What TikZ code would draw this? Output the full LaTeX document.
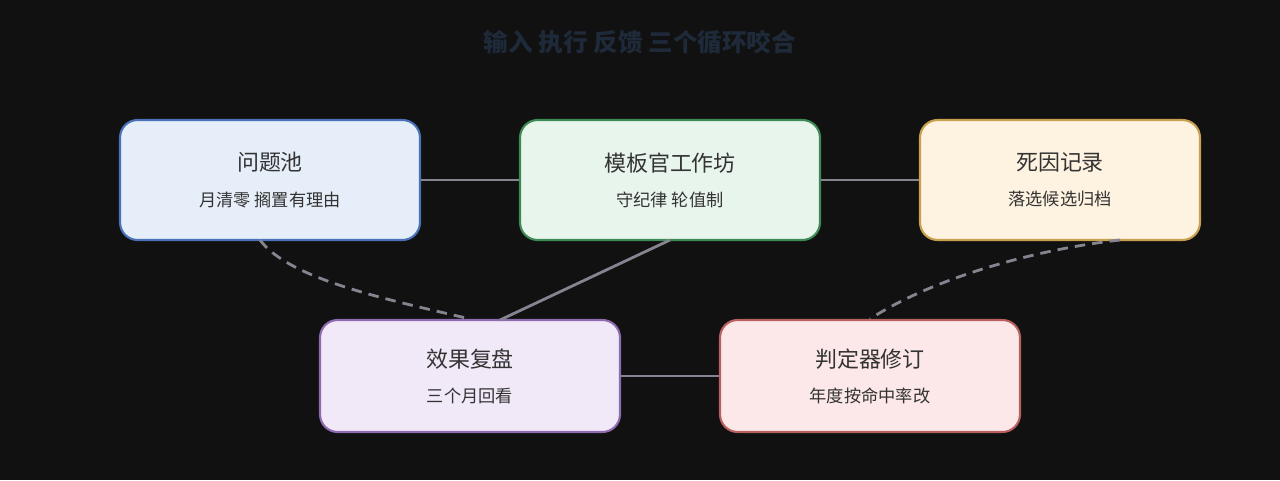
\documentclass[tikz,border=0pt]{standalone}
\usepackage{fontspec}
\setmainfont{Noto Sans CJK SC}
\usetikzlibrary{positioning}
\definecolor{bg}{HTML}{111111}
\definecolor{ink}{HTML}{333333}
\definecolor{wire}{HTML}{85848F}
\definecolor{ttl}{HTML}{1E2A3A}
\definecolor{poolfill}{HTML}{E6EEF9}\definecolor{pooldraw}{HTML}{4A72B8}
\definecolor{shopfill}{HTML}{E8F5EC}\definecolor{shopdraw}{HTML}{3E8A55}
\definecolor{deadfill}{HTML}{FDF3E0}\definecolor{deaddraw}{HTML}{C9A04E}
\definecolor{revfill}{HTML}{F1E8F8}\definecolor{revdraw}{HTML}{8E6BB0}
\definecolor{judgefill}{HTML}{FCE8E8}\definecolor{judgedraw}{HTML}{B86060}
\newcommand\subtxt[1]{{\fontsize{9.8pt}{12pt}\selectfont #1}}
\tikzset{
  box/.style={draw, line width=1.2pt, rounded corners=10pt, minimum width=6cm, minimum height=2.4cm, text=ink, align=center, font=\fontsize{12.5pt}{22pt}\selectfont},
  link/.style={draw=wire, line width=1.6pt},
  loop/.style={link, dash pattern=on 6pt off 4pt}
}
\begin{document}
\begin{tikzpicture}[x=0.02cm,y=-0.02cm]
\fill[bg] (0,0) rectangle (1280,480);
\node[text=ttl, font=\bfseries\fontsize{14pt}{16pt}\selectfont] (title) at (640,42) {输入 执行 反馈 三个循环咬合};

\node[box, fill=poolfill, draw=pooldraw] (pool) at (270,180) {问题池\\[-2pt]\subtxt{月清零 搁置有理由}};
\node[box, fill=shopfill, draw=shopdraw] (shop) at (670,180) {模板官工作坊\\[-2pt]\subtxt{守纪律 轮值制}};
\node[box, fill=deadfill, draw=deaddraw, minimum width=5.6cm] (dead) at (1060,180) {死因记录\\[-2pt]\subtxt{落选候选归档}};
\node[box, fill=revfill, draw=revdraw, minimum height=2.24cm] (review) at (470,376) {效果复盘\\[-2pt]\subtxt{三个月回看}};
\node[box, fill=judgefill, draw=judgedraw, minimum height=2.24cm] (judge) at (870,376) {判定器修订\\[-2pt]\subtxt{年度按命中率改}};

\coordinate (poolout) at (260,240);
\coordinate (deadout) at (1120,240);
\coordinate (shopout) at (670,240);
\coordinate (revin) at (500,320);

\draw[link] (pool.east) -- (shop.west);
\draw[link] (shop.east) -- (dead.west);
\draw[link] (review.east) -- (judge.west);
\draw[link] (shopout) -- (revin);
\draw[loop] (poolout) .. controls (290,280) and (390,300) .. (review.north);
\draw[loop] (deadout) .. controls (1030,250) and (930,280) .. (judge.north);
\end{tikzpicture}
\end{document}
